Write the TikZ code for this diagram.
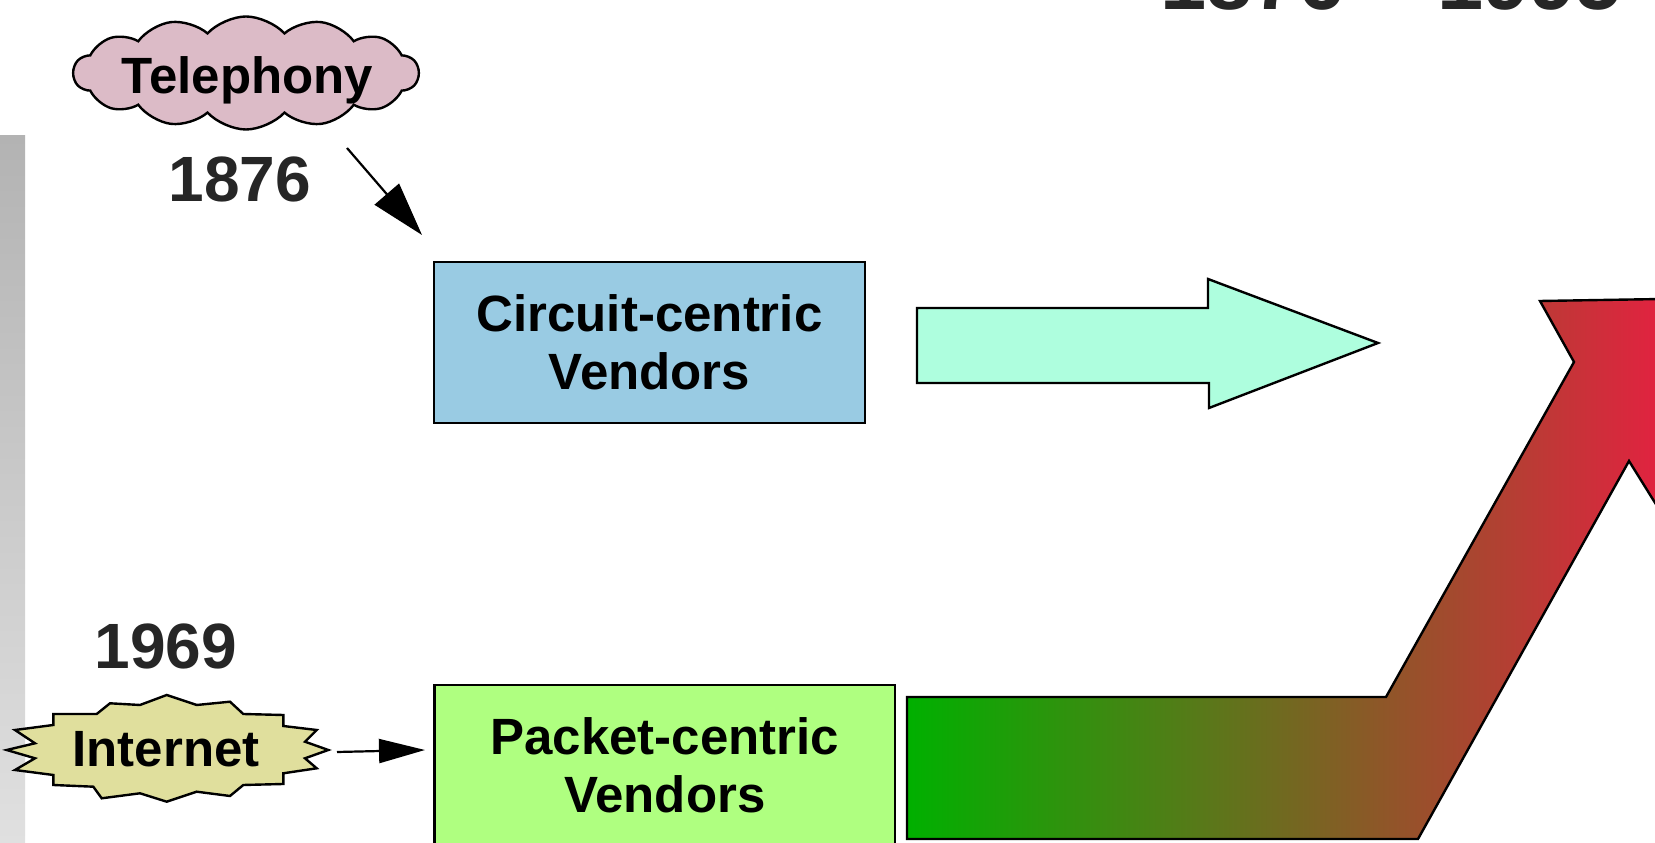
\documentclass[tikz,border=0pt]{standalone}
\usepackage{fontspec}
\setmainfont{Liberation Sans}
\usetikzlibrary{shapes.symbols,arrows.meta}
\definecolor{ink}{HTML}{262626}
\definecolor{barTop}{HTML}{B3B3B3}
\definecolor{barBot}{HTML}{E0E0E0}
\definecolor{cloudFill}{HTML}{DCBBC7}
\definecolor{burstFill}{HTML}{E0DF9D}
\definecolor{circFill}{HTML}{99CBE3}
\definecolor{packFill}{HTML}{AFFF80}
\definecolor{tealFill}{HTML}{AEFEDE}
\definecolor{gGreen}{RGB}{0,176,0}
\definecolor{gRed}{RGB}{226,34,64}
\tikzset{
  outl/.style={draw=black, line width=2.4pt, line join=miter},
  vbox/.style={outl, rectangle, inner sep=0pt, align=center,
    font=\fontsize{51}{58}\selectfont\bfseries},
  yearlbl/.style={inner sep=0pt, text=ink, font=\fontsize{64}{70}\selectfont\bfseries},
  tagfont/.style={font=\fontsize{51}{56}\selectfont\bfseries},
  conn/.style={draw=black, line width=2.2pt},
}
\begin{document}
\begin{tikzpicture}[x=1pt,y=1pt]
\useasboundingbox (0,0) rectangle (1655,843);
\clip (0,0) rectangle (1655,843);
\fill[white] (0,0) rectangle (1655,843);
% left gray bar
\shade[top color=barTop, bottom color=barBot] (0,0) rectangle (25,707);
% title (cut off at top)
\node[anchor=base west, inner sep=0pt, text=ink, font=\fontsize{83}{90}\selectfont\bfseries] (title) at (1160,833) {1876 – 1995};
% telephony cloud
\node[cloud, cloud puffs=14, cloud puff arc=95, cloud ignores aspect, outl, fill=cloudFill,
  minimum width=345pt, minimum height=113pt, inner sep=0pt] (tel) at (246,770) {};
\node[anchor=base, inner sep=0pt, tagfont] (telLbl) at (247.5,749) {Telephony};
\node[yearlbl] (y1876) at (240,664) {1876};
% circuit box
\node[vbox, fill=circFill, minimum width=431pt, minimum height=161pt] (circ) at (649.5,500.5) {Circuit-centric\\Vendors};
\coordinate (a1s) at (347,695);
\coordinate (a1e) at (422,608);
\draw[conn, -{Triangle[length=54pt,width=32pt]}] (a1s) -- (a1e);
% teal block arrow
\draw[outl, fill=tealFill] (917,535) -- (1208,535) -- (1208,564) -- (1378,500) -- (1209,435) -- (1209,460) -- (917,460) -- cycle;
% internet
\node[yearlbl] (y1969) at (166,196.5) {1969};
\begin{scope}[yscale=-1, yshift=-843pt]
\draw[outl, fill=burstFill]
  (6.7,750) -- (35,743.3) -- (15,730) -- (53.3,725) -- (53.3,714) -- (96.7,714)
  -- (110,703.3) -- (140,705) -- (166.7,695) -- (196.7,705) -- (230,701.7)
  -- (243.3,714) -- (283.3,715) -- (283.3,726) -- (316.7,730) -- (305,741.7)
  -- (328.3,750) -- (305,758.3) -- (316.7,768.3) -- (283.3,773.3) -- (283.3,784)
  -- (243.3,785) -- (230,796) -- (196.7,791.7) -- (166.7,801.7) -- (140,793.3)
  -- (101.7,798.3) -- (93.3,786.7) -- (53.3,785) -- (53.3,775) -- (15,770)
  -- (35,758.3) -- cycle;
\end{scope}
\node[inner sep=0pt, tagfont] (inet) at (166,94) {Internet};
\node[vbox, fill=packFill, minimum width=460.5pt, minimum height=161pt] (pack) at (664.75,77.5) {Packet-centric\\Vendors};
\coordinate (a2s) at (337,91);
\coordinate (a2e) at (425,93);
\draw[conn, -{Triangle[length=46pt,width=24pt]}] (a2s) -- (a2e);
% gradient bent arrow
\shadedraw[left color=gGreen, right color=gRed, outl]
  (907,4) -- (907,146) -- (1386,146) -- (1574,481) -- (1540,542) -- (1662,544)
  -- (1662,329) -- (1629,382) -- (1418,4) -- cycle;
\end{tikzpicture}
\end{document}
